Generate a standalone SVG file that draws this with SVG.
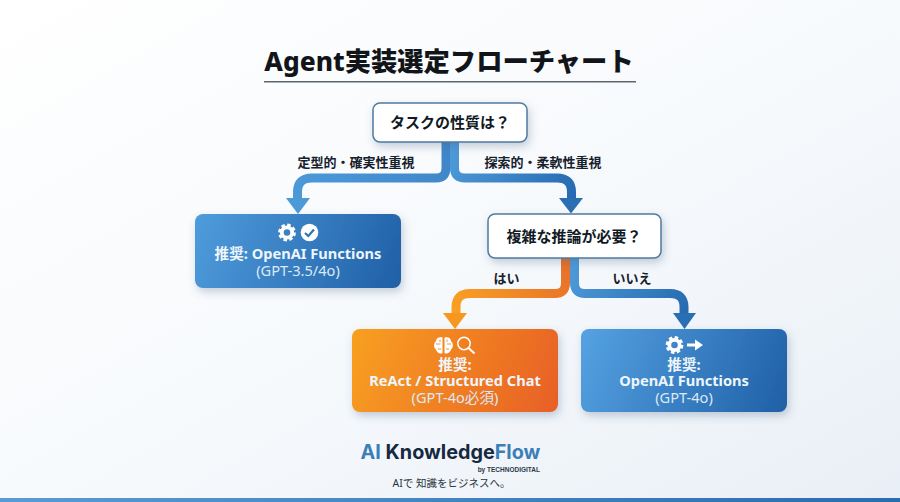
<svg xmlns="http://www.w3.org/2000/svg" xmlns:xlink="http://www.w3.org/1999/xlink" width="900" height="502" viewBox="0 0 900 502">
<style>
text{font-family:"Noto Sans","Noto Sans CJK JP",sans-serif;text-anchor:middle}
.q{font-size:15px;font-weight:700;fill:#111a24}
.lb{font-size:13px;font-weight:700;fill:#16202b}
.m{font-size:14.6px;font-weight:700;fill:#eef5fb}
.s{font-size:14.6px;font-weight:400;fill:#dce9f5}
.qbox{fill:#fff;stroke:#4d7ba1;stroke-width:1.5;filter:url(#sh)}
.act{filter:url(#sh)}
.c{fill:none;stroke-width:9}
</style>
<defs>
<linearGradient id="bg" x1="0" y1="0" x2="1" y2="1"><stop offset="0" stop-color="#ffffff"/><stop offset=".55" stop-color="#f6f9fc"/><stop offset="1" stop-color="#e9eff6"/></linearGradient>
<linearGradient id="bar" x1="0" x2="1" y1="0" y2="0"><stop offset="0" stop-color="#5b9bd3"/><stop offset="1" stop-color="#2a6cb0"/></linearGradient>
<linearGradient id="b1" gradientUnits="userSpaceOnUse" x1="195" y1="214" x2="401" y2="288"><stop offset="0" stop-color="#4f9cdc"/><stop offset="1" stop-color="#1f5fa6"/></linearGradient>
<linearGradient id="b2" gradientUnits="userSpaceOnUse" x1="581" y1="329" x2="787" y2="412"><stop offset="0" stop-color="#55a2e2"/><stop offset="1" stop-color="#1f5fa6"/></linearGradient>
<linearGradient id="or" gradientUnits="userSpaceOnUse" x1="352" y1="329" x2="558" y2="412"><stop offset="0" stop-color="#f8a01f"/><stop offset="1" stop-color="#e85f26"/></linearGradient>
<linearGradient id="cl" gradientUnits="userSpaceOnUse" x1="298" y1="214" x2="446" y2="142"><stop offset="0" stop-color="#4d9ad9"/><stop offset="1" stop-color="#3f86c9"/></linearGradient>
<linearGradient id="cr" gradientUnits="userSpaceOnUse" x1="454" y1="142" x2="572" y2="214"><stop offset="0" stop-color="#4f9bda"/><stop offset="1" stop-color="#2467ae"/></linearGradient>
<linearGradient id="co" gradientUnits="userSpaceOnUse" x1="456" y1="320" x2="566" y2="258"><stop offset="0" stop-color="#f9a223"/><stop offset="1" stop-color="#e8702a"/></linearGradient>
<linearGradient id="cb" gradientUnits="userSpaceOnUse" x1="574" y1="258" x2="685" y2="329"><stop offset="0" stop-color="#4f9bda"/><stop offset="1" stop-color="#2467ae"/></linearGradient>
<filter id="sh" x="-15%" y="-25%" width="130%" height="160%"><feDropShadow dx="2" dy="4" stdDeviation="4" flood-color="#3a5a7a" flood-opacity=".28"/></filter>
<g id="gear"><circle r="5.2" fill="none" stroke="#fff" stroke-width="3.8"/><circle r="7.4" fill="none" stroke="#fff" stroke-width="3" stroke-dasharray="3.4 2.41"/></g>
</defs>
<rect id="background" width="900" height="502" fill="url(#bg)"/>
<rect id="bottom-bar" y="498" width="900" height="4" fill="url(#bar)"/>
<g id="title">
<text x="449" y="71" style="font-size:26.300px;font-weight:800;fill:#111519">Agent実装選定フローチャート</text>
<rect x="264" y="81" width="372" height="1.500" fill="#5d666e"/>
</g>
<g id="connectors">
<path class="c" stroke="url(#cl)" d="M446 142V168Q446 178 436 178H312Q297.500 178 297.500 192V200"/>
<path d="M286 198H310L298 214Z" fill="#4d9ad9"/>
<path class="c" stroke="url(#cr)" d="M454.500 142V168Q454.500 178 465 178H557Q571.500 178 571.500 192V200"/>
<path d="M559 198H583L571 213.500Z" fill="#2a6eb4"/>
<path class="c" stroke="url(#co)" d="M565.500 258V283Q565.500 293.500 555 293.500H470Q456 293.500 456 307V315"/>
<path d="M443 313H467L455 329Z" fill="#f6981f"/>
<path class="c" stroke="url(#cb)" d="M574.500 258V283Q574.500 293.500 585 293.500H670Q684 293.500 684 307V315"/>
<path d="M673 313H696L684.500 329Z" fill="#2a6eb4"/>
<g>
<text class="lb" x="356" y="166.500">定型的・確実性重視</text>
<text class="lb" x="543" y="166.500">探索的・柔軟性重視</text>
<text class="lb" x="506.500" y="282.500">はい</text>
<text class="lb" x="632" y="282.500">いいえ</text>
</g>
</g>
<g id="q1"><rect class="qbox" x="373" y="103" width="154" height="39" rx="7"/><text class="q" x="450" y="128">タスクの性質は？</text></g>
<g id="q2"><rect class="qbox" x="488" y="214" width="173" height="44" rx="7"/><text class="q" x="574" y="241.500">複雑な推論が必要？</text></g>
<g id="rec1">
<rect class="act" x="195" y="214" width="206" height="74" rx="8" fill="url(#b1)"/>
<use href="#gear" x="287" y="232.500"/>
<circle cx="309.500" cy="232.500" r="8.800" fill="#fff"/><path d="M305 233L308.300 236L314 229.500" fill="none" stroke="#2f74b8" stroke-width="2.200"/>
<text class="m" x="298" y="258.800">推奨: OpenAI Functions</text>
<text class="s" x="298" y="275.500">(GPT-3.5/4o)</text>
</g>
<g id="rec2">
<rect class="act" x="352" y="329" width="206" height="83" rx="8" fill="url(#or)"/>
<path d="M442.500 337.500C438 336.500 436 339 436 341C433.500 343 433.500 348 436 349.500C436.500 352.500 440 354.500 442.500 353ZM444.500 337.500C449 336.500 451 339 451 341C453.500 343 453.500 348 451 349.500C450.500 352.500 447 354.500 444.500 353Z" fill="#fff"/>
<path d="M436 344H440.500M440 339.500V342M447 344H451M447 339.500V342M438 349H441M446 349H449" stroke="#f29a2f" stroke-width="1" fill="none"/>
<circle cx="464" cy="343.500" r="6.200" fill="none" stroke="#fff" stroke-width="1.500"/><path d="M468.500 348L474.500 353.500" stroke="#fff" stroke-width="2"/>
<text class="m" x="455" y="370">推奨:</text>
<text class="m" x="455" y="385.800">ReAct / Structured Chat</text>
<text class="s" x="455" y="403">(GPT-4o必須)</text>
</g>
<g id="rec3">
<rect class="act" x="581" y="329" width="206" height="83" rx="8" fill="url(#b2)"/>
<use href="#gear" x="674.500" y="345"/>
<path d="M687 343.500H695V339.500L703 345L695 350.500V346.500H687Z" fill="#fff"/>
<text class="m" x="684" y="370">推奨:</text>
<text class="m" x="684" y="385.800">OpenAI Functions</text>
<text class="s" x="684" y="403">(GPT-4o)</text>
</g>
<g id="logo">
<text x="450.500" y="459" style="font-size:19.800px;font-weight:700;font-family:'Inter','Liberation Sans',sans-serif"><tspan fill="#3b7fb8">AI </tspan><tspan fill="#16293f">Knowledge</tspan><tspan fill="#3b7fb8">Flow</tspan></text>
<text x="540" y="472" style="font-size:6.500px;font-weight:700;fill:#2c3a48;text-anchor:end;font-family:'Liberation Sans',sans-serif">by TECHNODIGITAL</text>
<text x="451.500" y="486.500" style="font-size:10.500px;fill:#2a3440">AIで 知識をビジネスへ。</text>
</g>
</svg>
